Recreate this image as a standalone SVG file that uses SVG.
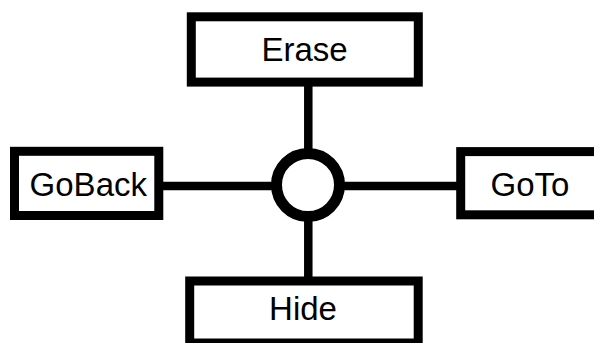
<svg xmlns="http://www.w3.org/2000/svg" width="594" height="343" viewBox="0 0 594 343">
  <style>
    .box { fill: #ffffff; stroke: #000000; stroke-width: 9; }
    .lbl { font-family: "Liberation Sans", Arial, sans-serif; font-size: 33px; fill: #000000; text-anchor: middle; }
    .wire { stroke: #000000; stroke-width: 8.5; fill: none; }
  </style>
  <rect width="594" height="343" fill="#ffffff"/>
  <g id="connectors">
    <line class="wire" x1="308.3" y1="84" x2="308.3" y2="280"/>
    <line class="wire" x1="160" y1="186" x2="460" y2="186"/>
  </g>
  <g id="hub">
    <circle cx="308" cy="185" r="31.5" fill="#ffffff" stroke="#000000" stroke-width="11"/>
  </g>
  <g id="erase">
    <rect class="box" x="191.3" y="16.8" width="227" height="65.3"/>
    <text class="lbl" x="304.5" y="61">Erase</text>
  </g>
  <g id="goback">
    <rect class="box" x="14.5" y="151.3" width="144.3" height="64.2"/>
    <text class="lbl" x="88.3" y="195.7">GoBack</text>
  </g>
  <g id="goto">
    <rect class="box" x="460.7" y="151.6" width="200" height="63.2"/>
    <text class="lbl" x="530" y="195.7">GoTo</text>
  </g>
  <g id="hide">
    <rect class="box" x="189.7" y="281" width="228.5" height="62"/>
    <text class="lbl" x="303" y="320">Hide</text>
  </g>
</svg>
